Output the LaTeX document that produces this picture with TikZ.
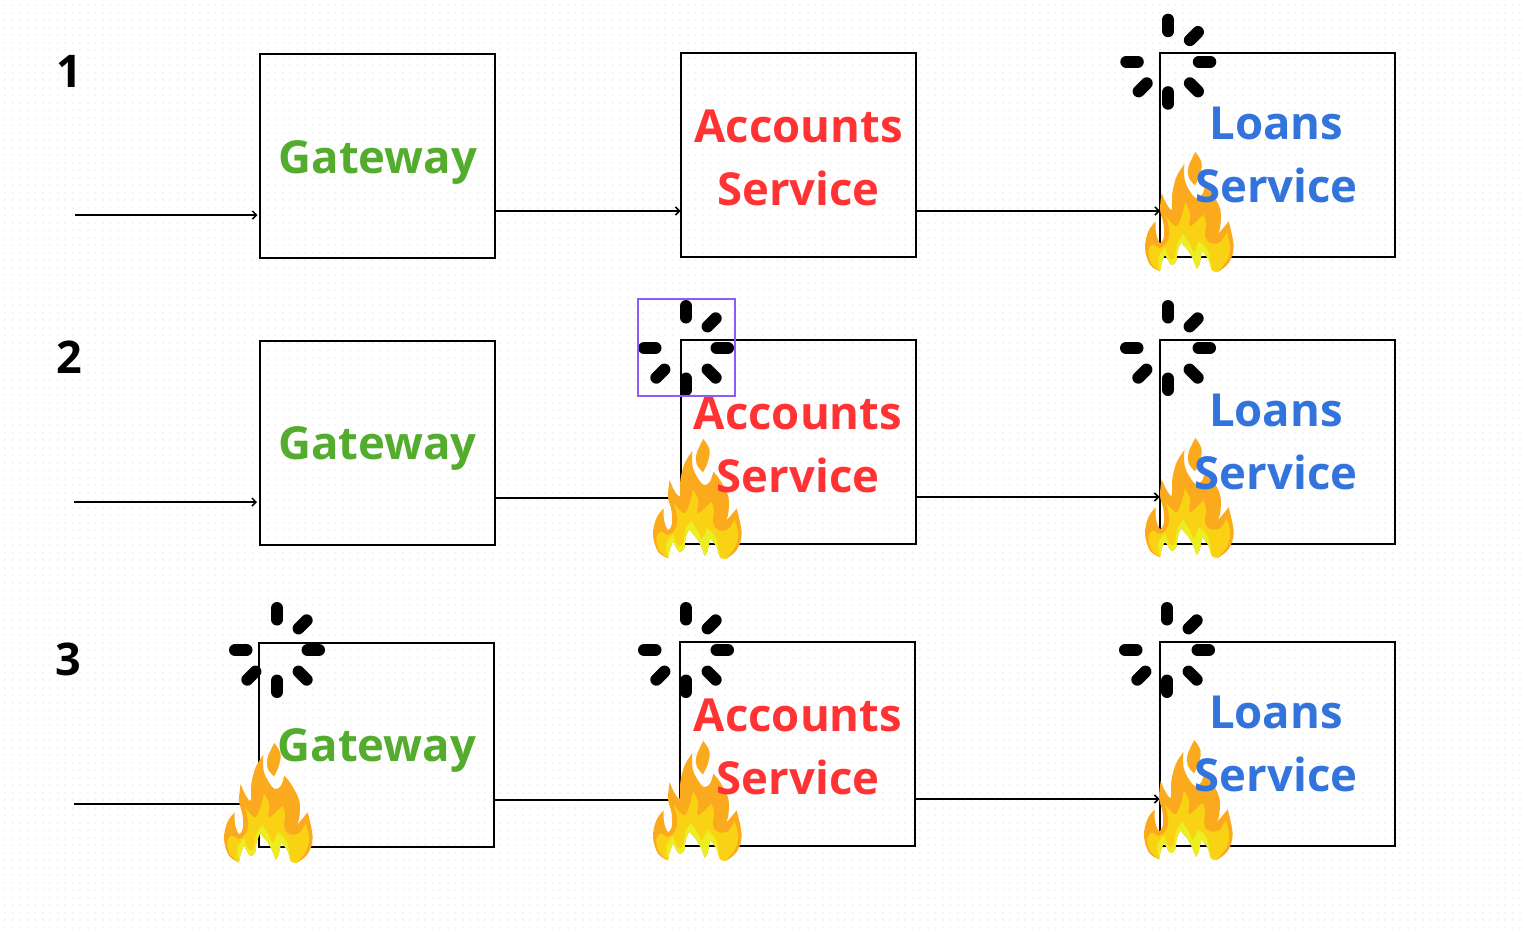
\documentclass[tikz,border=0pt]{standalone}
\usepackage{fontspec}
\usepackage{tikz}
\usetikzlibrary{arrows.meta}
\setmainfont{Open Sans}

\definecolor{gatewaygreen}{HTML}{54AC2E}
\definecolor{accountsred}{HTML}{FF3333}
\definecolor{loansblue}{HTML}{3273DC}
\definecolor{flameorange}{HTML}{FBAA1E}
\definecolor{flameyellow}{HTML}{F9D214}
\definecolor{flamebright}{HTML}{EBEF22}
\definecolor{framepurple}{HTML}{8B5CF6}
\definecolor{griddot}{HTML}{F4F4F4}

\newcommand{\flamebottom}{-- plot[smooth,tension=.5] coordinates {(233,372) (216,366) (205,333) (186,310)}
    -- plot[smooth,tension=.5] coordinates {(186,310) (178,350) (170,362)}
    -- plot[smooth,tension=.5] coordinates {(170,362) (160,335) (145,308) (123,283)}
    -- plot[smooth,tension=.5] coordinates {(123,283) (113,308) (108,341) (95,351) (85,338) (75,318)}
    -- plot[smooth,tension=.5] coordinates {(75,318) (65,345) (60,370)} -- cycle}

\tikzset{
    svcbox/.style={draw,line width=2pt,minimum width=235pt,minimum height=204pt,inner sep=0pt,outer sep=0pt},
    svctext/.style={font=\fontsize{45.5}{63}\bfseries\selectfont,align=center,inner sep=0pt},
    rownum/.style={font=\fontsize{45}{54}\bfseries\selectfont,inner sep=0pt},
    callarrow/.style={line width=1.5pt,-{Straight Barb[length=4pt,width=8pt]}},
    spoke/.style={line width=12pt,line cap=round},
    flamepic/.pic={
        \begin{scope}[scale=1/3]
            \fill[flameorange] plot[smooth,tension=.6] coordinates {(60,370) (30,350) (15,300) (25,250) (47,220)}
                -- plot[smooth,tension=.6] coordinates {(47,220) (48,255) (60,285) (72,265) (70,225) (60,185) (65,135)}
                -- plot[smooth,tension=.6] coordinates {(65,135) (78,165) (95,185) (97,135) (110,85) (133,48)}
                -- plot[smooth,tension=.6] coordinates {(133,48) (134,95) (150,130) (168,150) (186,140) (196,110)}
                -- plot[smooth,tension=.6] coordinates {(196,110) (216,135) (241,185) (241,235) (236,255) (266,220)}
                -- plot[smooth,tension=.6] coordinates {(266,220) (281,295) (266,345) (233,372)}
                \flamebottom;
            \fill[flameorange] plot[smooth,tension=.6] coordinates {(166,12) (185,45) (178,85) (165,112)}
                -- plot[smooth,tension=.6] coordinates {(165,112) (146,88) (146,55) (166,12)} -- cycle;
            \fill[flameyellow] plot[smooth,tension=.6] coordinates {(60,370) (33,345) (25,308) (38,290) (60,300) (80,285) (88,250) (77,205)}
                -- plot[smooth,tension=.6] coordinates {(77,205) (95,225) (110,235) (125,205) (135,163)}
                -- plot[smooth,tension=.6] coordinates {(135,163) (150,195) (150,235) (190,200)}
                -- plot[smooth,tension=.6] coordinates {(190,200) (198,225) (195,265) (210,285) (240,283) (260,253)}
                -- plot[smooth,tension=.6] coordinates {(260,253) (270,295) (262,335) (233,372)}
                \flamebottom;
            \fill[flamebright] plot[smooth,tension=.6] coordinates {(60,370) (55,328) (75,298)}
                -- plot[smooth,tension=.6] coordinates {(75,298) (85,325) (95,335) (105,325) (112,285) (130,258)}
                -- plot[smooth,tension=.6] coordinates {(130,258) (150,290) (162,312) (176,280)}
                -- plot[smooth,tension=.6] coordinates {(176,280) (195,295) (208,322) (216,366)}
                \flamebottom;
        \end{scope}
    },
    spinnerpic/.pic={
        \foreach \ang in {-90,-45,0,45,90,135,180}
            \draw[spoke] (\ang:30.5) -- (\ang:42);
    }
}

\begin{document}
\begin{tikzpicture}[x=1pt,y=-1pt]
    \useasboundingbox (0,0) rectangle (1524,932);
    \fill[white] (0,0) rectangle (1524,932);
    % dotted paper
    \foreach \dotrow in {5.2,12.7,...,930}
        \draw[griddot,line width=2pt,dash pattern=on 2pt off 5.5pt] (4,\dotrow) -- (1524,\dotrow);

    % row numbers
    \node[rownum] (num1) at (69,71) {1};
    \node[rownum] (num2) at (69,357) {2};
    \node[rownum] (num3) at (68.5,659) {3};

    % boxes
    \node[svcbox] (gw1) at (377.5,156) {};
    \node[svcbox] (acc1) at (798.5,155) {};
    \node[svcbox] (loans1) at (1277.5,155) {};
    \node[svcbox] (gw2) at (377,443) {};
    \node[svcbox] (acc2) at (798,442) {};
    \node[svcbox] (loans2) at (1277,442) {};
    \node[svcbox] (gw3) at (376.5,745) {};
    \node[svcbox] (acc3) at (797.5,744) {};
    \node[svcbox] (loans3) at (1277,744) {};

    % free ends of the incoming calls
    \coordinate (in1) at (75,215);
    \coordinate (in2) at (74,502);
    \coordinate (in3) at (74,804);

    \draw[callarrow] (in1) -- ([xshift=-2.5pt]in1 -| gw1.west);
    \draw[callarrow] ([yshift=-55pt]gw1.east) -- ([xshift=-.5pt,yshift=-56pt]acc1.west);
    \draw[callarrow] ([yshift=-56pt]acc1.east) -- ([yshift=-56pt]loans1.west);
    \draw[callarrow] (in2) -- ([xshift=-2.5pt]in2 -| gw2.west);
    \draw[callarrow] ([yshift=-55pt]gw2.east) -- ([xshift=-.5pt,yshift=-56pt]acc2.west);
    \draw[callarrow] ([yshift=-55pt]acc2.east) -- ([yshift=-55pt]loans2.west);
    \draw[callarrow] (in3) -- ([xshift=-2.5pt]in3 -| gw3.west);
    \draw[callarrow] ([yshift=-55pt]gw3.east) -- ([xshift=-.5pt,yshift=-56pt]acc3.west);
    \draw[callarrow] ([yshift=-55pt]acc3.east) -- ([yshift=-55pt]loans3.west);

    % flames
    \foreach \fx/\fy in {1140/148,1140/434,1139/736,648/435,648/737,219/739}
        \pic at (\fx,\fy) {flamepic};

    % labels
    \node[svctext,text=gatewaygreen] (gw1txt) at (378,162) {Gateway};
    \node[svctext,text=accountsred] (acc1txt) at (798.5,157.5) {Accounts\\Service};
    \node[svctext,text=loansblue] (loans1txt) at (1276.5,155) {Loans\\Service};
    \node[svctext,text=gatewaygreen] (gw2txt) at (377.5,448.5) {Gateway};
    \node[svctext,text=accountsred] (acc2txt) at (798,445) {Accounts\\Service};
    \node[svctext,text=loansblue] (loans2txt) at (1276,442) {Loans\\Service};
    \node[svctext,text=gatewaygreen] (gw3txt) at (377,750.5) {Gateway};
    \node[svctext,text=accountsred] (acc3txt) at (798,747) {Accounts\\Service};
    \node[svctext,text=loansblue] (loans3txt) at (1276,744) {Loans\\Service};

    % spinners
    \foreach \sx/\sy in {1168.3/61.7,1168/348,1167/650,686/348,686/650,277/650}
        \pic at (\sx,\sy) {spinnerpic};

    % selection frame
    \node[draw=framepurple,line width=2pt,minimum size=97pt,inner sep=0pt,outer sep=0pt] (selframe) at (686.5,347.5) {};
\end{tikzpicture}
\end{document}
